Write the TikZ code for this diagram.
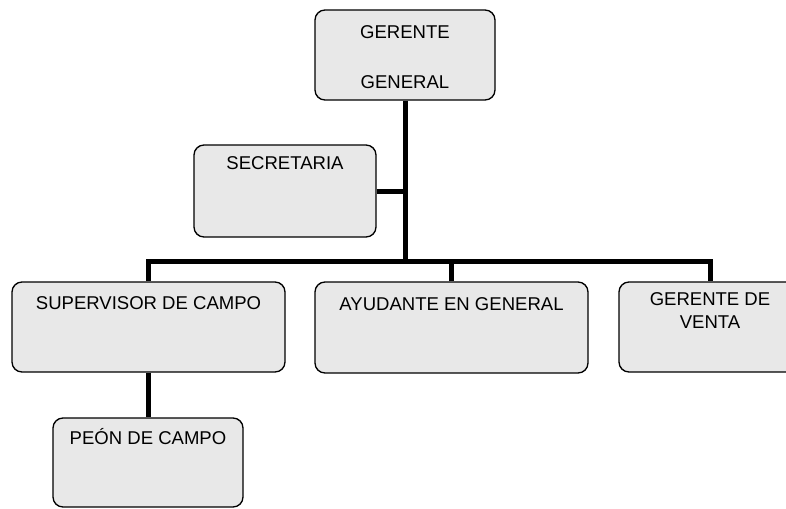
\documentclass[tikz,border=0pt]{standalone}
\usepackage{fontspec}
\setmainfont{Liberation Sans}
\usetikzlibrary{positioning, calc}
\definecolor{boxgray}{RGB}{232, 232, 232}

\begin{document}
\begin{tikzpicture}[x=0.75pt, y=-0.75pt,
  caja/.style={draw=black, line width=1pt, fill=boxgray, rounded corners=7.5pt, inner sep=0pt},
  rotulo/.style={font=\fontsize{13.9}{17}\selectfont, inner sep=0pt, anchor=north, align=center, text height=9.9pt},
  rotulos/.style={font=\fontsize{13.9}{17}\selectfont, inner sep=0pt, anchor=base, align=center},
  enlace/.style={line width=3.75pt}]
  \useasboundingbox (0,0) rectangle (786,508);

  % Top of the chart
  \node[caja, minimum width=135pt, minimum height=67.5pt,
    label={[rotulos, yshift=-59.25pt]north:{GERENTE\\[20.5pt]GENERAL}}] (gerente) at (405,55) {};
  \node[caja, minimum width=136.5pt, minimum height=69pt,
    label={[rotulo, yshift=-9pt]north:SECRETARIA}] (secretaria) at (285,191) {};

  % Second level
  \node[caja, minimum width=204.75pt, minimum height=67.5pt,
    label={[rotulo, yshift=-11.25pt]north:SUPERVISOR DE CAMPO}] (supervisor) at (148.5,327) {};
  \node[caja, minimum width=204.75pt, minimum height=68.25pt,
    label={[rotulo, yshift=-12pt]north:AYUDANTE EN GENERAL}] (ayudante) at (451.5,327.5) {};
  \node[caja, minimum width=136.5pt, minimum height=67.5pt,
    label={[rotulos, yshift=-35.25pt]north:{GERENTE DE\\VENTA}}] (venta) at (710,327) {};

  % Third level
  \node[caja, minimum width=142.5pt, minimum height=66.75pt,
    label={[rotulo, yshift=-10.5pt]north:PEÓN DE CAMPO}] (peon) at (148,462.5) {};

  % Connectors
  \coordinate (barra) at (406,261.5);
  \draw[enlace] (gerente.south) -- (gerente.south |- barra);
  \draw[enlace] (secretaria.east) -- (secretaria.east -| gerente.south);
  \draw[enlace] (supervisor.north) -- (supervisor.north |- barra) -- (venta.north |- barra) -- (venta.north);
  \draw[enlace] (ayudante.north) -- (ayudante.north |- barra);
  \draw[enlace] (supervisor.south) -- (supervisor.south |- peon.north);
\end{tikzpicture}
\end{document}
